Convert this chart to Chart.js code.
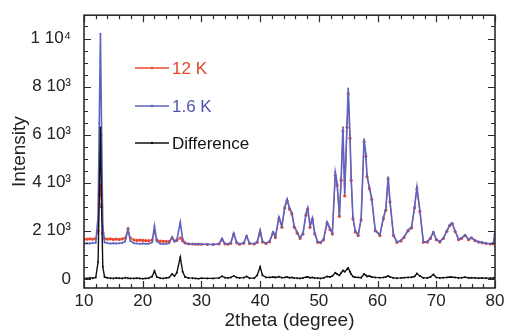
<!DOCTYPE html>
<html lang="en">
<head>
<meta charset="utf-8">
<title>Powder diffraction 12 K / 1.6 K</title>
<script src="https://cdn.jsdelivr.net/npm/chart.js"></script>
<style>
html,body{margin:0;background:#fff}
#wrap{width:510px;height:332px}
</style>
</head>
<body>
<div id="wrap"><canvas id="xrd"></canvas></div>
<script>
/* ---- data: 2theta (deg) and intensities ---- */
const twoTheta = [
  10.0,10.5,11.0,11.5,12.0,12.4,12.6,12.8,13.0,13.2,
  13.5,14.0,14.5,15.0,15.5,16.0,16.5,17.0,17.5,17.9,
  18.5,19.0,19.5,20.0,20.5,21.0,21.6,22.0,22.4,23.0,
  23.5,24.0,24.5,25.0,25.4,25.8,26.4,26.8,27.2,27.8,
  28.5,29.0,29.5,30.0,31.0,32.0,33.0,33.5,34.0,34.5,
  35.0,35.5,36.0,36.5,37.2,37.7,38.2,39.0,39.5,40.0,
  40.4,41.0,41.6,42.2,42.6,43.2,43.7,44.2,44.6,45.0,
  45.4,45.8,46.3,46.8,47.3,47.8,48.1,48.5,48.9,49.3,
  49.8,50.3,50.8,51.4,51.9,52.3,52.8,53.1,53.5,53.8,
  54.1,54.4,54.8,55.0,55.3,55.5,55.8,56.2,56.7,57.2,
  57.7,58.0,58.2,58.6,59.0,59.6,60.4,61.0,61.4,61.8,
  62.1,62.7,63.3,64.0,64.5,65.2,65.8,66.3,66.7,67.2,
  67.8,68.5,69.0,69.5,70.0,70.6,71.2,71.8,72.3,72.7,
  73.2,73.8,74.3,74.9,75.5,76.0,76.6,77.2,77.8,78.5,
  79.2,79.7,80.0
];
const i12K = [
  1640,1650,1660,1650,1680,2000,3100,3900,3000,1900,
  1680,1650,1660,1640,1650,1640,1660,1700,2080,1700,
  1620,1600,1610,1600,1590,1590,1620,1950,1620,1570,
  1560,1560,1560,1700,1580,1600,1700,1580,1500,1460,
  1450,1440,1440,1440,1430,1430,1450,1620,1460,1440,
  1480,1850,1500,1440,1480,1750,1470,1450,1520,1900,
  1530,1470,1540,1900,1720,2500,2150,2950,3250,2900,
  2700,2150,1900,1680,1870,2650,2900,2150,2480,1870,
  1520,1510,1620,2300,2050,1870,4300,3900,2600,4100,
  6150,3450,6300,7700,5850,4100,2500,1950,1800,2450,
  5700,5100,4250,3750,3300,2000,1800,2500,2850,4150,
  3200,1800,1520,1580,1720,2000,2120,2950,3750,2800,
  1520,1530,1680,1920,1630,1530,1680,1980,2220,2300,
  1970,1630,1680,1800,1630,1700,1590,1530,1500,1470,
  1450,1460,1850
];
const i1p6K = [
  1470,1480,1470,1490,1500,2600,6500,10200,6000,2200,
  1520,1480,1470,1480,1470,1480,1490,1560,2050,1580,
  1480,1470,1460,1470,1460,1460,1520,2200,1560,1460,
  1450,1460,1480,1740,1560,1600,2360,1650,1480,1450,
  1440,1440,1450,1440,1440,1430,1460,1680,1470,1450,
  1500,1900,1520,1450,1500,1790,1480,1460,1550,2030,
  1560,1480,1560,1950,1750,2570,2200,3000,3320,2950,
  2750,2200,1950,1700,1900,2700,2950,2200,2530,1900,
  1530,1520,1650,2370,2100,1900,4440,4000,2650,4200,
  6310,3570,6500,7920,6000,4230,2570,2000,1830,2500,
  5810,5200,4320,3820,3360,2030,1830,2570,2900,4230,
  3280,1830,1535,1600,1750,2030,2160,3000,3820,2860,
  1535,1550,1700,1950,1650,1550,1700,2000,2250,2320,
  2000,1650,1700,1830,1650,1720,1600,1540,1520,1480,
  1460,1480,1900
];
const difference = [
  30,20,40,30,60,700,3500,6300,3000,500,
  80,40,30,20,40,30,20,50,30,20,
  20,30,20,10,20,30,100,330,80,30,
  20,40,60,200,120,250,900,300,80,40,
  30,20,10,30,20,20,40,110,50,40,
  60,120,60,40,50,100,30,30,150,500,
  150,60,60,80,60,90,50,60,80,50,
  60,40,30,20,40,70,80,50,60,40,
  30,20,40,100,80,120,250,200,150,250,
  350,300,400,450,300,200,100,70,60,50,
  200,150,100,120,80,60,50,60,80,120,
  80,40,30,40,50,60,70,100,220,120,
  40,40,80,180,60,40,50,60,80,70,
  60,40,50,70,40,50,40,30,40,30,
  30,30,60
];

const seriesLabels = ['12 K', '1.6 K', 'Difference'];
const xTicks = [10, 20, 30, 40, 50, 60, 70, 80];
const yTicks = [0, 2000, 4000, 6000, 8000, 10000];
const yTickLabels = ['0', '2 10³', '4 10³', '6 10³', '8 10³', '1 10⁴'];

const FONT = "'Liberation Sans', Arial, Helvetica, sans-serif";
const pts = arr => twoTheta.map((t, i) => ({x: t, y: arr[i]}));

/* box with inward ticks on all four sides */
const frameTicks = {
  id: 'frameTicks',
  afterDatasetsDraw(chart) {
    const {ctx, chartArea: a, scales: {x, y}} = chart;
    ctx.save();
    ctx.strokeStyle = '#2b2b2b';
    ctx.lineWidth = 1.2;
    ctx.beginPath();
    for (let v = 10; v <= 80; v += 2) {
      const px = Math.round(x.getPixelForValue(v)) + .5;
      const len = v % 10 === 0 ? 7 : 4;
      ctx.moveTo(px, a.bottom); ctx.lineTo(px, a.bottom - len);
      ctx.moveTo(px, a.top);    ctx.lineTo(px, a.top + len);
    }
    for (let v = 0; v <= 10500; v += 500) {
      const py = Math.round(y.getPixelForValue(v)) + .5;
      const len = v % 2000 === 0 ? 7 : 4;
      ctx.moveTo(a.left, py);  ctx.lineTo(a.left + len, py);
      ctx.moveTo(a.right, py); ctx.lineTo(a.right - len, py);
    }
    ctx.stroke();
    ctx.lineWidth = 1.6;
    ctx.strokeRect(a.left, a.top, a.right - a.left, a.bottom - a.top);
    ctx.restore();
  }
};

/* legend inside the plot, upper left */
const innerLegend = {
  id: 'innerLegend',
  afterDraw(chart) {
    const ctx = chart.ctx;
    const rows = [68, 106, 143];
    ctx.save();
    ctx.font = '17px ' + FONT;
    ctx.textBaseline = 'middle';
    chart.data.datasets.forEach((ds, i) => {
      const yy = rows[i];
      ctx.strokeStyle = ds.borderColor;
      ctx.lineWidth = 1.5;
      ctx.beginPath(); ctx.moveTo(135, yy); ctx.lineTo(169, yy); ctx.stroke();
      ctx.fillStyle = ds.borderColor;
      ctx.beginPath(); ctx.arc(152, yy, 1.3, 0, Math.PI * 2); ctx.fill();
      ctx.fillStyle = ds.labelColor;
      ctx.fillText(ds.label, 172, yy + 1);
    });
    ctx.restore();
  }
};

new Chart(document.getElementById('xrd'), {
  type: 'line',
  data: {
    datasets: [
      {label: seriesLabels[0], data: pts(i12K), borderColor: '#e9482c', backgroundColor: '#e9482c',
       labelColor: '#e4462b', borderWidth: 1.1, pointRadius: 1.6, pointBorderWidth: 0, order: 3},
      {label: seriesLabels[1], data: pts(i1p6K), borderColor: '#5d63c2', backgroundColor: '#5d63c2',
       labelColor: '#4d56ac', borderWidth: 1.6, pointRadius: 1, pointBorderWidth: 0, order: 2},
      {label: seriesLabels[2], data: pts(difference), borderColor: '#111', backgroundColor: '#111',
       labelColor: '#111', borderWidth: 1.4, pointRadius: 1, pointBorderWidth: 0, order: 1}
    ]
  },
  options: {
    animation: false, responsive: true, maintainAspectRatio: false,
    layout: {padding: {left: 0, right: 15, top: 15, bottom: 0}},
    plugins: {legend: {display: false}, tooltip: {enabled: false}},
    elements: {line: {tension: 0}},
    scales: {
      x: {
        type: 'linear', min: 10, max: 80,
        afterBuildTicks: s => { s.ticks = xTicks.map(v => ({value: v})); },
        afterFit: s => { s.height = 44; },
        grid: {display: false}, border: {display: false},
        ticks: {color: '#222', font: {family: FONT, size: 17}, padding: -5, maxRotation: 0, autoSkip: false},
        title: {display: true, text: '2theta (degree)', color: '#222',
                font: {family: FONT, size: 19}, padding: {top: 0, bottom: 0}}
      },
      y: {
        min: -380, max: 10970,
        afterBuildTicks: s => { s.ticks = yTicks.map(v => ({value: v})); },
        afterFit: s => { s.width = 84; },
        grid: {display: false}, border: {display: false},
        ticks: {color: '#222', font: {family: FONT, size: 17}, padding: 5,
                callback: v => yTickLabels[yTicks.indexOf(v)]},
        title: {display: true, text: 'Intensity', color: '#222',
                font: {family: FONT, size: 19}, padding: {top: 8, bottom: 0}}
      }
    }
  },
  plugins: [frameTicks, innerLegend]
});
</script>
</body>
</html>
